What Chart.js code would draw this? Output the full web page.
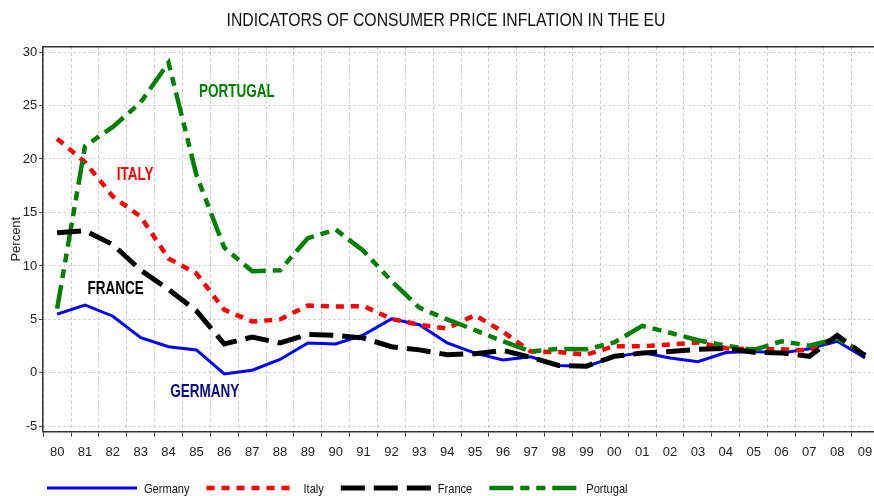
<!DOCTYPE html>
<html>
<head>
<meta charset="utf-8">
<title>Consumer price inflation in the EU</title>
<script src="https://cdn.jsdelivr.net/npm/chart.js@4.4.1/dist/chart.umd.min.js"></script>
<style>
  html, body { margin: 0; padding: 0; background: #fff; overflow: hidden; }
  #wrap { width: 874px; height: 496px; overflow: hidden; }
  #box { width: 892px; height: 496px; }
</style>
</head>
<body>
<div id="wrap"><div id="box"><canvas id="inflChart"></canvas></div></div>
<script>
// annees (axe x)
const years = ['80', '81', '82', '83', '84', '85', '86', '87', '88', '89',
               '90', '91', '92', '93', '94', '95', '96', '97', '98', '99',
               '00', '01', '02', '03', '04', '05', '06', '07', '08', '09'];

// inflation en % par pays
const germany  = [5.5, 6.35, 5.3, 3.3, 2.45, 2.15, -0.1, 0.25, 1.25, 2.8,
                  2.7, 3.55, 5.05, 4.5, 2.8, 1.85, 1.2, 1.5, 0.7, 0.6,
                  1.5, 1.9, 1.4, 1.05, 1.9, 2.0, 1.85, 2.25, 2.95, 1.4];
const italy    = [21.9, 19.7, 16.5, 14.6, 10.7, 9.3, 5.9, 4.8, 5.0, 6.3,
                  6.2, 6.25, 5.05, 4.5, 4.15, 5.4, 3.85, 2.0, 1.95, 1.7,
                  2.5, 2.5, 2.65, 2.85, 2.3, 2.2, 2.2, 2.1, 3.35, 1.7];
const france   = [13.1, 13.3, 12.0, 9.6, 7.8, 5.8, 2.7, 3.35, 2.8, 3.6,
                  3.5, 3.25, 2.45, 2.15, 1.7, 1.8, 2.1, 1.45, 0.7, 0.63,
                  1.55, 1.85, 2.0, 2.2, 2.3, 1.93, 1.87, 1.55, 3.5, 1.6];
const portugal = [6.0, 21.2, 23.0, 25.3, 29.0, 18.5, 11.7, 9.5, 9.6, 12.6,
                  13.4, 11.4, 8.6, 6.1, 5.0, 4.0, 2.95, 2.0, 2.25, 2.2,
                  2.85, 4.4, 3.75, 3.05, 2.55, 2.15, 2.95, 2.55, 3.2, 1.8];

// ticks de l'axe y
const yTicks = [-5, 0, 5, 10, 15, 20, 25, 30];

const FONT = "'Liberation Sans', Arial, sans-serif";
const TITLE = 'INDICATORS OF CONSUMER PRICE INFLATION IN THE EU';

// etiquettes dans le graphe (position en unites des axes)
const labelTexts = [
  { text: 'PORTUGAL', x: 6.45, y: 26.3, color: '#008000' },
  { text: 'ITALY',    x: 2.8,  y: 18.5, color: '#ff0000' },
  { text: 'FRANCE',   x: 2.1,  y: 7.8,  color: '#000000' },
  { text: 'GERMANY',  x: 5.3,  y: -1.75, color: '#0a0a85' }
];

// texte etroit (pas de police "narrow" installee -> on compresse en largeur)
function narrowText(ctx, text, x, y, align, sx) {
  ctx.save();
  ctx.translate(x, y);
  ctx.scale(sx, 1);
  ctx.textAlign = align;
  ctx.fillText(text, 0, 0);
  ctx.restore();
}

// plugin : titre, cadre du haut, etiquettes des pays, legende du bas
const extras = {
  id: 'extras',
  afterDatasetsDraw(chart) {
    const ctx = chart.ctx;
    const xs = chart.scales.x, ys = chart.scales.y;
    ctx.save();
    ctx.font = 'bold 18px ' + FONT;
    ctx.textBaseline = 'middle';
    labelTexts.forEach(l => {
      ctx.fillStyle = l.color;
      narrowText(ctx, l.text, xs.getPixelForValue(l.x), ys.getPixelForValue(l.y), 'center', 0.75);
    });
    ctx.restore();
  },
  afterDraw(chart) {
    const ctx = chart.ctx;
    const area = chart.chartArea;
    ctx.save();
    // titre
    ctx.fillStyle = '#111';
    ctx.font = '19px ' + FONT;
    ctx.textBaseline = 'middle';
    narrowText(ctx, TITLE, chart.width / 2, 21, 'center', 0.83);

    // ligne du haut
    ctx.strokeStyle = '#333';
    ctx.lineWidth = 1.5;
    ctx.beginPath();
    ctx.moveTo(area.left, area.top);
    ctx.lineTo(chart.width, area.top);
    ctx.stroke();

    // legende
    let x = 47;
    const y = 488;
    ctx.font = '13.5px ' + FONT;
    chart.data.datasets.forEach(ds => {
      ctx.strokeStyle = ds.borderColor;
      ctx.lineWidth = ds.borderWidth;
      ctx.setLineDash(ds.borderDash || []);
      ctx.beginPath();
      ctx.moveTo(x, y);
      ctx.lineTo(x + 90, y);
      ctx.stroke();
      ctx.setLineDash([]);
      ctx.fillStyle = '#111';
      narrowText(ctx, ds.label, x + 97, y + 1, 'left', 0.82);
      x += 97 + ctx.measureText(ds.label).width * 0.82 + 17;
    });
    ctx.restore();
  }
};

const ctx = document.getElementById('inflChart').getContext('2d');
new Chart(ctx, {
  type: 'line',
  data: {
    labels: years,
    datasets: [
      { label: 'Germany', data: germany, borderColor: '#0000ff', borderWidth: 3,
        borderDash: [], order: 3 },
      { label: 'Italy', data: italy, borderColor: '#ff0000', borderWidth: 4.5,
        borderDash: [8, 7], order: 2 },
      { label: 'France', data: france, borderColor: '#000000', borderWidth: 5,
        borderDash: [24, 9], order: 0 },
      { label: 'Portugal', data: portugal, borderColor: '#008000', borderWidth: 4.5,
        borderDash: [24, 7, 9, 7, 9, 7], order: 1 }
    ]
  },
  options: {
    responsive: true,
    maintainAspectRatio: false,
    animation: false,
    layout: { padding: { left: 0, right: 13, top: 46.7, bottom: 0 } },
    elements: {
      point: { radius: 0, hoverRadius: 0 },
      line: { tension: 0, fill: false, borderCapStyle: 'butt', borderJoinStyle: 'miter' }
    },
    plugins: {
      legend: { display: false },
      tooltip: { enabled: false },
      title: { display: false }
    },
    scales: {
      x: {
        offset: true,
        afterFit(scale) { scale.height = 64.3; },
        ticks: { autoSkip: false, maxRotation: 0, color: '#222',
                 font: { family: FONT, size: 13 }, padding: 8 },
        grid: { offset: true, color: '#c4c4c4', tickColor: '#444', tickLength: 5, lineWidth: 1 },
        border: { color: '#333', width: 1.5, dash: [3, 3] }
      },
      y: {
        min: -5.5,
        max: 30.5,
        afterFit(scale) { scale.width = 43.2; },
        afterBuildTicks(scale) { scale.ticks = yTicks.map(v => ({ value: v })); },
        ticks: { color: '#222', font: { family: FONT, size: 13 }, padding: 2 },
        grid: { color: '#c4c4c4', tickColor: '#444', tickLength: 4, lineWidth: 1 },
        border: { color: '#333', width: 1.5, dash: [2, 3] },
        title: { display: true, text: 'Percent', color: '#222',
                 font: { family: FONT, size: 13 }, padding: { top: 9, bottom: 0 } }
      }
    }
  },
  plugins: [extras]
});
</script>
</body>
</html>
